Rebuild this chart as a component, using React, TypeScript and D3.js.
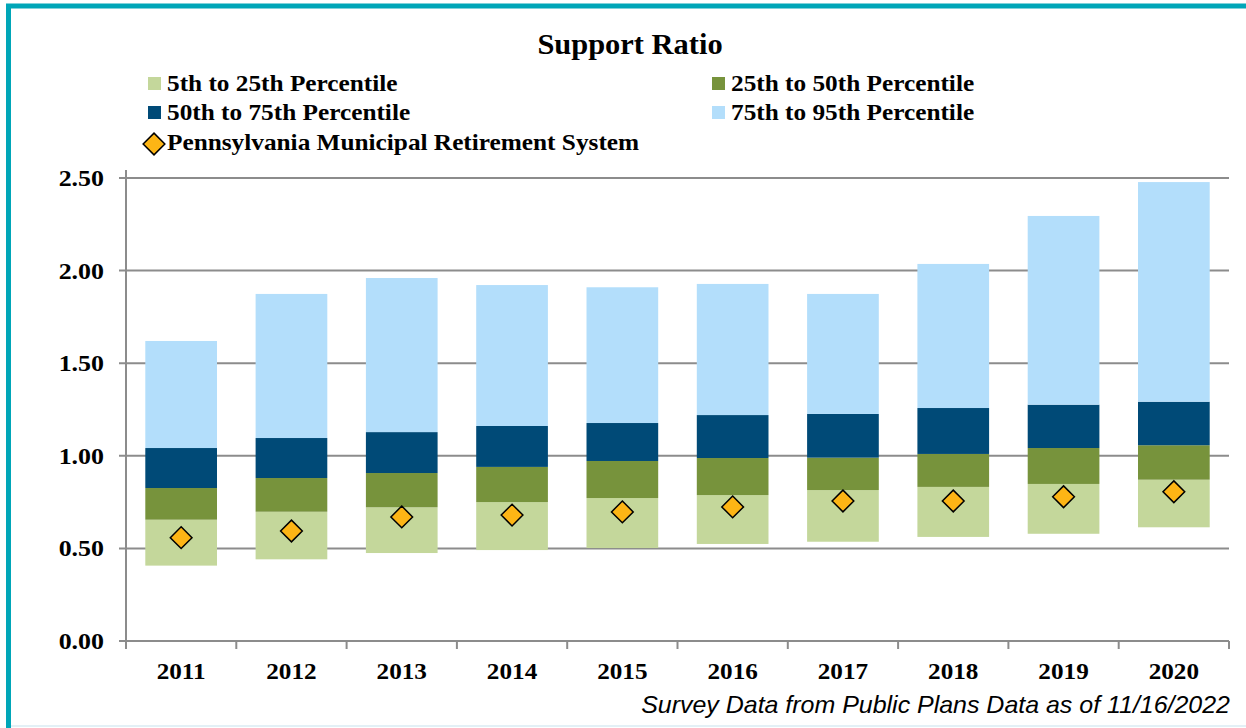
import React from 'react';
import * as d3 from 'd3';

// percentile boundaries
const years = ['2011', '2012', '2013', '2014', '2015', '2016', '2017', '2018', '2019', '2020'];
const p5 = [0.407, 0.441, 0.475, 0.491, 0.502, 0.524, 0.536, 0.562, 0.579, 0.614];
const p25 = [0.655, 0.698, 0.722, 0.75, 0.772, 0.788, 0.815, 0.832, 0.848, 0.871];
const p50 = [0.826, 0.88, 0.907, 0.94, 0.972, 0.988, 0.99, 1.01, 1.042, 1.057];
const p75 = [1.042, 1.096, 1.128, 1.161, 1.177, 1.22, 1.226, 1.258, 1.276, 1.292];
const p95 = [1.62, 1.874, 1.96, 1.922, 1.91, 1.928, 1.874, 2.036, 2.295, 2.478];
const pmrs = [0.558, 0.594, 0.67, 0.68, 0.697, 0.724, 0.756, 0.756, 0.779, 0.806];
const yTicks = [0, 0.5, 1, 1.5, 2, 2.5];

const W = 1246;
const H = 728;
const margin = { left: 126, right: 17, top: 178, bottom: 87 };

const bands = [
  { label: '5th to 25th Percentile', lo: p5, hi: p25, color: '#C4D79B' },
  { label: '25th to 50th Percentile', lo: p25, hi: p50, color: '#77933C' },
  { label: '50th to 75th Percentile', lo: p50, hi: p75, color: '#004A77' },
  { label: '75th to 95th Percentile', lo: p75, hi: p95, color: '#B3DEFB' },
];

const serif = '"Liberation Serif", "Times New Roman", serif';
const gridColor = '#8c8c8c';

// text that is slightly wider than the font (the source image is stretched a bit)
function SText({ x, y, sx = 1.1, size, anchor = 'start', family = serif, bold = true, italic = false, children }: any) {
  return (
    <text
      transform={`translate(${x},${y}) scale(${sx},1)`}
      textAnchor={anchor}
      fontFamily={family}
      fontWeight={bold ? 'bold' : 'normal'}
      fontStyle={italic ? 'italic' : 'normal'}
      fontSize={size}
    >
      {children}
    </text>
  );
}

export default function App() {
  const x = d3
    .scaleBand()
    .domain(years)
    .range([margin.left, W - margin.right])
    .paddingInner(0.35)
    .paddingOuter(0.175);
  const y = d3
    .scaleLinear()
    .domain([0, 2.5])
    .range([H - margin.bottom, margin.top]);
  const fmt = d3.format('.2f');
  const diamond = d3.symbol().type(d3.symbolDiamond2).size(300)();

  const x0 = margin.left;
  const x1 = W - margin.right;
  const y0 = y(0);

  const legendRows = [
    { x: 148, y: 91, item: bands[0] },
    { x: 712, y: 91, item: bands[1] },
    { x: 148, y: 120, item: bands[2] },
    { x: 712, y: 120, item: bands[3] },
  ];

  return (
    <svg width={W} height={H} style={{ position: 'absolute', left: 0, top: 0, background: '#fff' }}>
      <rect x={8.5} y={6} width={W + 20} height={H + 20} fill="none" stroke="#00A6B8" strokeWidth={5} />
      <line x1={11} x2={W} y1={726} y2={726} stroke="#e3f0f6" strokeWidth={2} />

      <SText x={630} y={54} sx={1.05} size={29} anchor="middle">
        Support Ratio
      </SText>

      {legendRows.map(r => (
        <g key={r.item.label}>
          <rect x={r.x} y={r.y - 14} width={13} height={13} fill={r.item.color} />
          <SText x={r.x + 19} y={r.y} size={23}>
            {r.item.label}
          </SText>
        </g>
      ))}
      <g>
        <path d={diamond} transform="translate(154,144)" fill="#FDB515" stroke="#000" strokeWidth={1.5} />
        <SText x={167} y={150} size={23}>
          Pennsylvania Municipal Retirement System
        </SText>
      </g>

      {/* gridlines + y axis */}
      {yTicks.map(t => (
        <g key={t}>
          <line x1={x0 - 7} x2={x1} y1={y(t)} y2={y(t)} stroke={gridColor} strokeWidth={2} />
          <SText x={104} y={y(t) + 8} sx={1.08} size={24} anchor="end">
            {fmt(t)}
          </SText>
        </g>
      ))}

      {/* stacked percentile bars */}
      {bands.map(b =>
        years.map((yr, i) => (
          <rect
            key={b.label + yr}
            x={x(yr)}
            y={y(b.hi[i])}
            width={x.bandwidth()}
            height={y(b.lo[i]) - y(b.hi[i])}
            fill={b.color}
          />
        ))
      )}

      <line x1={x0} x2={x0} y1={y(2.5) - 8} y2={y0 + 8} stroke={gridColor} strokeWidth={2} />
      <line x1={x0} x2={x1} y1={y0} y2={y0} stroke={gridColor} strokeWidth={2} />
      {years.map((yr, i) => (
        <g key={yr}>
          <line
            x1={x0 + x.step() * (i + 1)}
            x2={x0 + x.step() * (i + 1)}
            y1={y0}
            y2={y0 + 8}
            stroke={gridColor}
            strokeWidth={2}
          />
          <SText x={(x(yr) || 0) + x.bandwidth() / 2} y={679} sx={1.05} size={24} anchor="middle">
            {yr}
          </SText>
        </g>
      ))}

      {years.map((yr, i) => (
        <path
          key={'d' + yr}
          d={diamond}
          transform={`translate(${(x(yr) || 0) + x.bandwidth() / 2},${y(pmrs[i])})`}
          fill="#FDB515"
          stroke="#000"
          strokeWidth={1.5}
        />
      ))}

      <SText
        x={1230}
        y={713}
        sx={1.04}
        size={24}
        anchor="end"
        family='"Liberation Sans", Arial, sans-serif'
        bold={false}
        italic={true}
      >
        Survey Data from Public Plans Data as of 11/16/2022
      </SText>
    </svg>
  );
}
